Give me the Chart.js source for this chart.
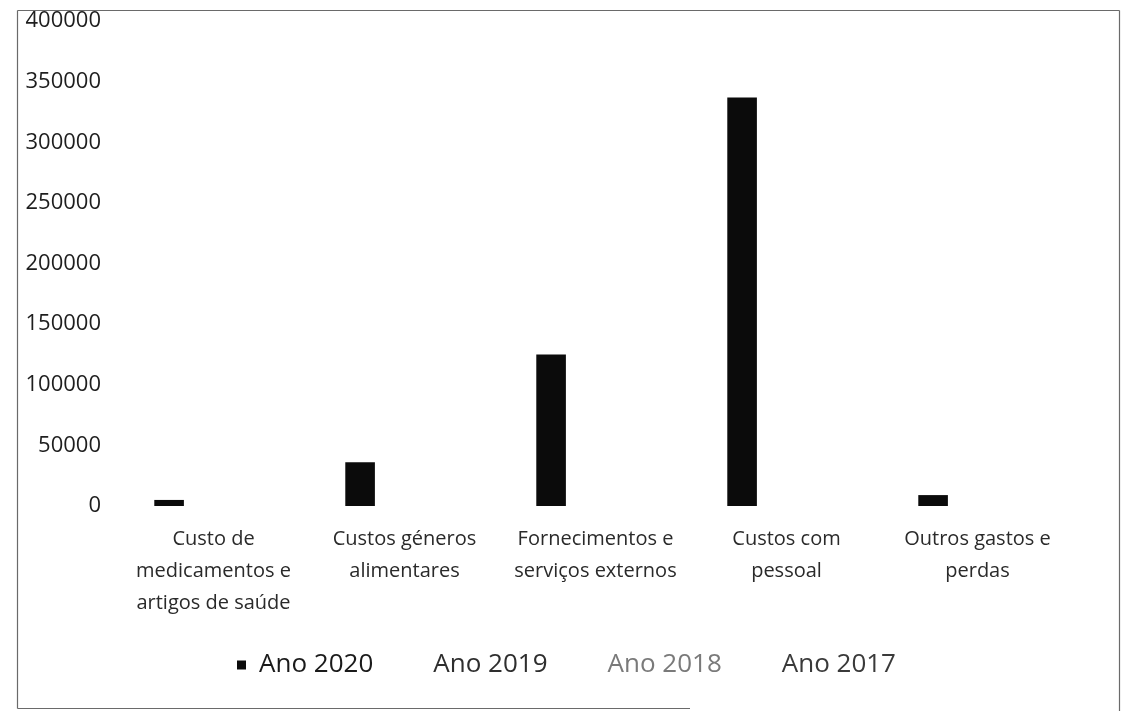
<!DOCTYPE html>
<html>
<head>
<meta charset="utf-8">
<script src="https://cdn.jsdelivr.net/npm/chart.js@4"></script>
<style>
  html, body { margin:0; padding:0; background:#fff; }
  #wrap { width:1125px; height:711px; position:relative; }
</style>
</head>
<body>
<div id="wrap"><canvas id="chart" width="1125" height="711"></canvas></div>
<script>
const categories = [
  ["Custo de", "medicamentos e", "artigos de saúde"],
  ["Custos géneros", "alimentares"],
  ["Fornecimentos e", "serviços externos"],
  ["Custos com", "pessoal"],
  ["Outros gastos e", "perdas"]
];
const seriesNames = ["Ano 2020", "Ano 2019", "Ano 2018", "Ano 2017"];
const ano2020 = [5000, 36000, 125000, 337000, 9000];
const ano2019 = [0, 0, 0, 0, 0];
const ano2018 = [0, 0, 0, 0, 0];
const ano2017 = [0, 0, 0, 0, 0];
const yTicks = [0, 50000, 100000, 150000, 200000, 250000, 300000, 350000, 400000];

const barColours = ["#0b0b0b", "#ffffff", "#ffffff", "#ffffff"];
const legendText = ["#1a1a1a", "#2e2e2e", "#7a7a7a", "#3a3a3a"];

/* scanned-page frame */
const framePlugin = {
  id: "frame",
  beforeDraw(chart) {
    const c = chart.ctx;
    c.save();
    c.fillStyle = "#fff";
    c.fillRect(0, 0, chart.width, chart.height);
    c.strokeStyle = "#6a6a6a";
    c.lineWidth = 1.2;
    c.beginPath();
    c.moveTo(17.5, 10.5); c.lineTo(1119.5, 10.5);
    c.moveTo(17.5, 10.5); c.lineTo(17.5, 708.5);
    c.moveTo(17.5, 708.5); c.lineTo(690, 708.5);
    c.moveTo(1119.5, 10.5); c.lineTo(1119.5, 711);
    c.stroke();
    c.restore();
  }
};

/* legend sits a little right of the canvas centre in the original */
const legendShift = {
  id: "legendShift",
  afterLayout(chart) {
    chart.legend.left += 30;
    chart.legend.right += 30;
  }
};

const data = [ano2020, ano2019, ano2018, ano2017];

new Chart(document.getElementById("chart"), {
  type: "bar",
  data: {
    labels: categories,
    datasets: seriesNames.map((name, i) => ({
      label: name,
      data: data[i],
      backgroundColor: barColours[i],
      borderWidth: 0,
      categoryPercentage: 0.62,
      barPercentage: 1.0
    }))
  },
  options: {
    responsive: false,
    animation: false,
    layout: { padding: { top: 21, right: 52, bottom: 23, left: 0 } },
    plugins: {
      tooltip: { enabled: false },
      legend: {
        position: "bottom",
        labels: {
          boxWidth: 9, boxHeight: 9, padding: 38,
          font: { family: "Open Sans", size: 26 },
          generateLabels(chart) {
            return chart.data.datasets.map((ds, i) => ({
              text: ds.label,
              fillStyle: barColours[i],
              strokeStyle: barColours[i],
              lineWidth: 0,
              fontColor: legendText[i],
              datasetIndex: i
            }));
          }
        }
      }
    },
    scales: {
      x: {
        grid: { display: false, drawTicks: false },
        border: { display: false },
        ticks: {
          padding: 17,
          maxRotation: 0,
          autoSkip: false,
          color: "#2a2a2a",
          font: { family: "Open Sans", size: 20, lineHeight: 32 / 20 }
        },
        afterFit(scale) { scale.height = 108; }
      },
      y: {
        min: 0, max: 400000,
        grid: { display: false, drawTicks: false },
        border: { display: false },
        afterBuildTicks(scale) { scale.ticks = yTicks.map(v => ({ value: v })); },
        ticks: {
          padding: 17,
          color: "#1e1e1e",
          font: { family: "Open Sans", size: 22 },
          callback: v => String(v)
        },
        afterFit(scale) {
          scale.width = 118;
          scale.paddingTop = 0;
          scale.paddingBottom = 0;
        }
      }
    }
  },
  plugins: [framePlugin, legendShift]
});
</script>
</body>
</html>
